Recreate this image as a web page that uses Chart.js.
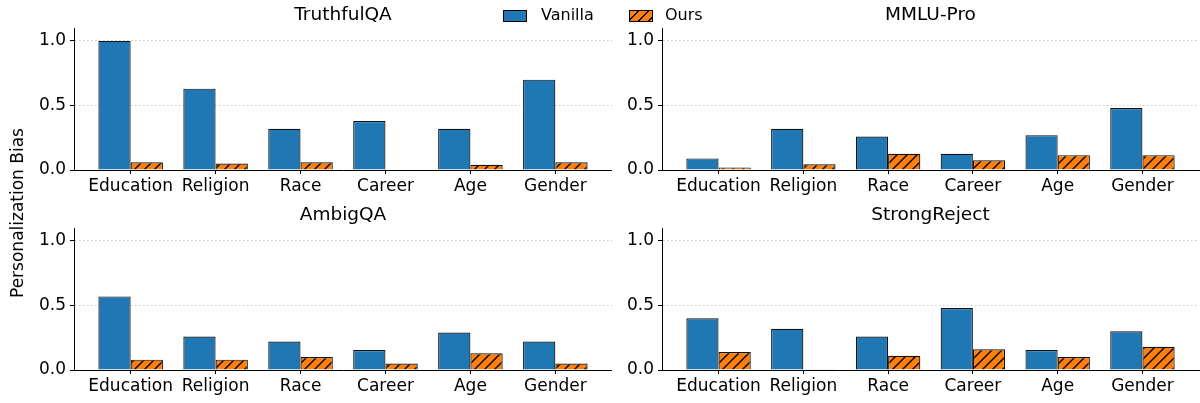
<!DOCTYPE html>
<html>
<head>
<meta charset="utf-8">
<script src="https://cdn.jsdelivr.net/npm/chart.js@4.4.1/dist/chart.umd.min.js"></script>
<style>
  body { margin: 0; background: #fff; }
  #fig { position: relative; width: 1200px; height: 403px; font-family: 'DejaVu Sans', sans-serif; color: #000; }
  canvas { position: absolute; }
  #ylabel { position: absolute; left: 17px; top: 213px; transform: translate(-50%, -50%) rotate(-90deg); font-size: 17px; white-space: nowrap; }
  .sw { position: absolute; top: 10px; width: 22px; height: 10px; border: 1px solid #000; }
  .lbl { position: absolute; top: 5px; font-size: 16px; line-height: 20px; }
</style>
</head>
<body>
<div id="fig">
  <canvas id="truthful" width="588" height="200" style="left:24px;top:0px"></canvas>
  <canvas id="mmlu" width="588" height="200" style="left:612px;top:0px"></canvas>
  <canvas id="ambig" width="588" height="200" style="left:24px;top:200px"></canvas>
  <canvas id="strong" width="588" height="200" style="left:612px;top:200px"></canvas>
  <div id="ylabel">Personalization Bias</div>
  <div class="sw" style="left:503px;background:#1f77b4"></div>
  <div class="lbl" style="left:541px">Vanilla</div>
  <div class="sw" style="left:629px;background:repeating-linear-gradient(135deg,#ff7f0e 0 5.5px,#000 5.5px 7px)"></div>
  <div class="lbl" style="left:665px">Ours</div>
</div>
<script>
const categories = ['Education', 'Religion', 'Race', 'Career', 'Age', 'Gender'];
const yTicks = [0, 0.5, 1.0];

const truthfulVanilla = [1.0, 0.63, 0.32, 0.38, 0.32, 0.70];
const truthfulOurs = [0.06, 0.05, 0.06, 0.003, 0.04, 0.06];

const mmluVanilla = [0.09, 0.32, 0.26, 0.125, 0.27, 0.48];
const mmluOurs = [0.02, 0.045, 0.125, 0.075, 0.115, 0.115];

const ambigVanilla = [0.57, 0.26, 0.22, 0.155, 0.29, 0.22];
const ambigOurs = [0.08, 0.08, 0.10, 0.05, 0.13, 0.05];

const strongVanilla = [0.40, 0.32, 0.26, 0.48, 0.155, 0.30];
const strongOurs = [0.14, 0.002, 0.11, 0.16, 0.10, 0.18];

Chart.defaults.font.family = "'DejaVu Sans', sans-serif";
Chart.defaults.font.size = 17;
Chart.defaults.color = '#000';

// orange fill with // hatch
function hatchPattern() {
  const c = document.createElement('canvas');
  c.width = 10; c.height = 10;
  const g = c.getContext('2d');
  g.fillStyle = '#ff7f0e';
  g.fillRect(0, 0, 10, 10);
  g.strokeStyle = '#000';
  g.lineWidth = 1.4;
  g.beginPath();
  g.moveTo(0, 10); g.lineTo(10, 0);
  g.moveTo(-5, 5); g.lineTo(5, -5);
  g.moveTo(5, 15); g.lineTo(15, 5);
  g.stroke();
  return g.createPattern(c, 'repeat');
}
const hatch = hatchPattern();

// title centred over the plot area like matplotlib
const axTitle = {
  id: 'axTitle',
  afterDraw(chart, args, opts) {
    const ctx = chart.ctx, a = chart.chartArea;
    ctx.save();
    ctx.font = "18.5px 'DejaVu Sans'";
    ctx.fillStyle = '#000';
    ctx.textAlign = 'center';
    ctx.textBaseline = 'alphabetic';
    ctx.fillText(opts.text, (a.left + a.right) / 2, 20);
    ctx.restore();
  }
};

function makePanel(id, title, vanilla, ours, padRight) {
  new Chart(document.getElementById(id), {
    type: 'bar',
    data: {
      datasets: [
        {
          label: 'Vanilla',
          data: vanilla.map((v, i) => ({ x: i, y: v })),
          backgroundColor: '#1f77b4',
          borderColor: '#111',
          borderWidth: 1.2
        },
        {
          label: 'Ours',
          data: ours.map((v, i) => ({ x: i, y: v })),
          backgroundColor: hatch,
          borderColor: '#111',
          borderWidth: 1.2
        }
      ]
    },
    options: {
      responsive: false,
      animation: false,
      categoryPercentage: 0.76,
      barPercentage: 1,
      layout: { padding: { top: 28, right: padRight, left: 0, bottom: 0 } },
      plugins: {
        legend: { display: false },
        tooltip: { enabled: false },
        axTitle: { text: title }
      },
      scales: {
        x: {
          type: 'linear',
          offset: false,
          min: -0.667,
          max: 5.667,
          afterBuildTicks: s => { s.ticks = categories.map((c, i) => ({ value: i })); },
          ticks: { callback: v => categories[v], padding: 2, maxRotation: 0, autoSkip: false },
          grid: { offset: false, drawOnChartArea: false, drawTicks: true, tickLength: 4, tickColor: '#000' },
          border: { color: '#000', width: 1 },
          afterFit: s => { s.height = 30; }
        },
        y: {
          min: 0,
          max: 1.1,
          afterBuildTicks: s => { s.ticks = yTicks.map(v => ({ value: v })); },
          ticks: { callback: v => v.toFixed(1), padding: 4 },
          grid: { color: 'rgba(0,0,0,0.22)', tickLength: 4, tickColor: '#000', tickBorderDash: [] },
          border: { color: '#000', width: 1, dash: [1.5, 2.5] },
          afterFit: s => { s.width = 50; }
        }
      }
    },
    plugins: [axTitle]
  });
}

makePanel('truthful', 'TruthfulQA', truthfulVanilla, truthfulOurs, 0);
makePanel('mmlu', 'MMLU-Pro', mmluVanilla, mmluOurs, 1);
makePanel('ambig', 'AmbigQA', ambigVanilla, ambigOurs, 0);
makePanel('strong', 'StrongReject', strongVanilla, strongOurs, 1);
</script>
</body>
</html>
